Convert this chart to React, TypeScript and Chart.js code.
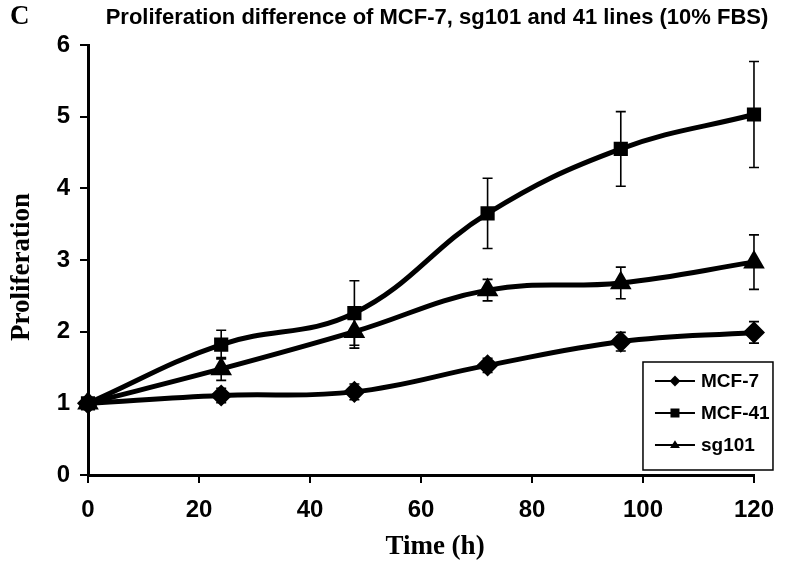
import React, { useEffect, useRef } from "react";
import { Chart, registerables } from "chart.js";
Chart.register(...registerables);

const times = [0, 24, 48, 72, 96, 120];
const mcf7 = [1, 1.11, 1.16, 1.53, 1.86, 1.99];
const mcf7Err = [0, 0.1, 0.11, 0.1, 0.13, 0.15];
const mcf41 = [1, 1.82, 2.26, 3.65, 4.55, 5.03];
const mcf41Err = [0, 0.2, 0.45, 0.49, 0.52, 0.74];
const sg101 = [1, 1.48, 2.0, 2.58, 2.68, 2.97];
const sg101Err = [0, 0.16, 0.23, 0.15, 0.22, 0.38];
const seriesNames = ["MCF-7", "MCF-41", "sg101"];
const seriesShapes = ["rectRot", "rect", "triangle"];
const titleText = "Proliferation difference of MCF-7, sg101 and 41 lines (10% FBS)";
const panelLabel = "C";
const xTitle = "Time (h)";
const yTitle = "Proliferation";

const SANS = "'Liberation Sans', Arial, sans-serif";
const SERIF = "'Liberation Serif', 'Times New Roman', serif";

const errors = [mcf7Err, mcf41Err, sg101Err];

function drawMarker(ctx: CanvasRenderingContext2D, shape: string, x: number, y: number, r: number) {
  ctx.beginPath();
  if (shape === "rectRot") {
    ctx.moveTo(x, y - r * 1.2);
    ctx.lineTo(x + r * 1.2, y);
    ctx.lineTo(x, y + r * 1.2);
    ctx.lineTo(x - r * 1.2, y);
    ctx.closePath();
  } else if (shape === "rect") {
    ctx.rect(x - r, y - r, 2 * r, 2 * r);
  } else {
    const h = r * 1.6;
    ctx.moveTo(x, y - h * 0.66);
    ctx.lineTo(x + r * 1.1, y + h * 0.4);
    ctx.lineTo(x - r * 1.1, y + h * 0.4);
    ctx.closePath();
  }
  ctx.fill();
}

const errorBarPlugin = {
  id: "errorBars",
  afterDatasetsDraw(chart: any) {
    const { ctx, scales } = chart;
    const xs = scales.x;
    const ys = scales.y;
    ctx.save();
    ctx.strokeStyle = "#000";
    ctx.lineWidth = 1.6;
    chart.data.datasets.forEach((ds: any, i: number) => {
      const errs = errors[i];
      ds.data.forEach((p: any, j: number) => {
        const e = errs[j];
        if (!e) return;
        const px = xs.getPixelForValue(p.x);
        const top = ys.getPixelForValue(p.y + e);
        const bot = ys.getPixelForValue(p.y - e);
        ctx.beginPath();
        ctx.moveTo(px, top);
        ctx.lineTo(px, bot);
        ctx.moveTo(px - 5, top);
        ctx.lineTo(px + 5, top);
        ctx.moveTo(px - 5, bot);
        ctx.lineTo(px + 5, bot);
        ctx.stroke();
      });
    });
    ctx.restore();
  },
};

const textPlugin = {
  id: "texts",
  afterDraw(chart: any) {
    const { ctx, chartArea } = chart;
    ctx.save();
    ctx.fillStyle = "#000";
    ctx.font = `bold 27px ${SERIF}`;
    ctx.textAlign = "left";
    ctx.textBaseline = "middle";
    ctx.fillText(panelLabel, 10, 17);
    ctx.font = `bold 22px ${SANS}`;
    ctx.textAlign = "center";
    ctx.fillText(titleText, 437, 18);
    ctx.font = `bold 27px ${SERIF}`;
    ctx.fillText(xTitle, 435, 547);
    ctx.save();
    ctx.translate(22, 267);
    ctx.rotate(-Math.PI / 2);
    ctx.fillText(yTitle, 0, 0);
    ctx.restore();

    const bx = chartArea.right - 111;
    const by = chartArea.bottom - 113;
    const bw = 130;
    const bh = 108;
    ctx.fillStyle = "#fff";
    ctx.fillRect(bx, by, bw, bh);
    ctx.strokeStyle = "#000";
    ctx.lineWidth = 1.5;
    ctx.strokeRect(bx, by, bw, bh);
    ctx.fillStyle = "#000";
    ctx.font = `bold 19px ${SANS}`;
    ctx.textAlign = "left";
    ctx.textBaseline = "middle";
    seriesNames.forEach((name, i) => {
      const cy = by + 19 + i * 32;
      ctx.lineWidth = 2;
      ctx.beginPath();
      ctx.moveTo(bx + 12, cy);
      ctx.lineTo(bx + 52, cy);
      ctx.stroke();
      drawMarker(ctx, seriesShapes[i], bx + 32, cy, 4.5);
      ctx.fillText(name, bx + 58, cy + 1);
    });
    ctx.restore();
  },
};

export default function App() {
  const ref = useRef<HTMLCanvasElement>(null);
  useEffect(() => {
    document.body.style.margin = "0";
    const values = [mcf7, mcf41, sg101];
    const chart = new Chart(ref.current!, {
      type: "line",
      data: {
        datasets: values.map((vals, i) => ({
          label: seriesNames[i],
          data: times.map((t, j) => ({ x: t, y: vals[j] })),
          borderColor: "#000",
          backgroundColor: "#000",
          borderWidth: 5,
          pointStyle: seriesShapes[i] as any,
          pointRadius: i === 1 ? 6.5 : 7.5,
          pointBackgroundColor: "#000",
          pointBorderColor: "#000",
          tension: 0.4,
          clip: false as any,
        })),
      },
      options: {
        animation: false,
        responsive: false,
        layout: { padding: { left: 0, top: 45, right: 32, bottom: 0 } },
        plugins: { legend: { display: false }, title: { display: false }, tooltip: { enabled: false } },
        scales: {
          x: {
            type: "linear",
            min: 0,
            max: 120,
            ticks: { stepSize: 20, color: "#000", font: { family: SANS, size: 24, weight: "bold" }, padding: 13 },
            grid: { drawOnChartArea: false, drawTicks: true, tickLength: 8, color: "#000", lineWidth: 2 },
            border: { color: "#000", width: 3 },
            afterFit: (s: any) => { s.height = 97; },
          },
          y: {
            min: 0,
            max: 6,
            ticks: { stepSize: 1, color: "#000", font: { family: SANS, size: 24, weight: "bold" }, padding: 10 },
            grid: { drawOnChartArea: false, drawTicks: true, tickLength: 8, color: "#000", lineWidth: 2 },
            border: { color: "#000", width: 3 },
            afterFit: (s: any) => { s.width = 88; },
          },
        },
      },
      plugins: [errorBarPlugin, textPlugin],
    });
    return () => chart.destroy();
  }, []);
  return (
    <div style={{ width: 787, height: 572 }}>
      <canvas ref={ref} width={787} height={572} style={{ display: "block" }} />
    </div>
  );
}
